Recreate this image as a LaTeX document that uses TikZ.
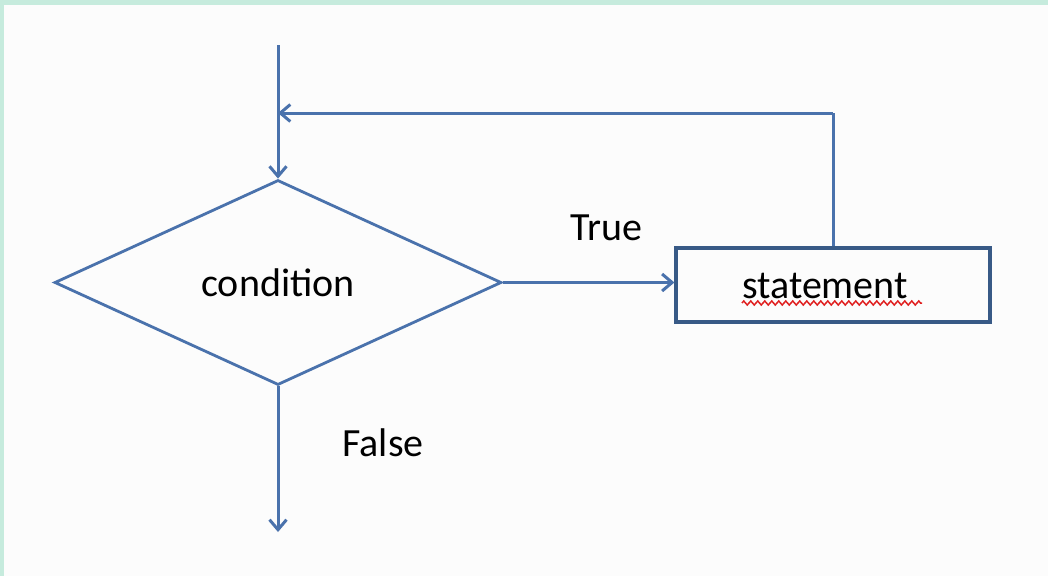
\documentclass[tikz,border=0pt]{standalone}
\usepackage{fontspec}
\setmainfont{Carlito}
\usetikzlibrary{shapes.geometric,arrows.meta,decorations.pathmorphing}
\definecolor{edgegreen}{HTML}{C6EBDD}
\definecolor{paper}{HTML}{FCFCFC}
\definecolor{flowblue}{HTML}{4A72AC}
\definecolor{boxnavy}{HTML}{385A86}
\definecolor{squiggle}{HTML}{E02020}
\tikzset{
  flow/.style={draw=flowblue, line width=3pt, -{Straight Barb[length=10pt,width=17pt,line width=3pt]}},
  plain/.style={draw=flowblue, line width=3pt},
  decision/.style={diamond, draw=flowblue, line width=2.8pt, inner sep=0pt,
    minimum width=447pt, minimum height=205pt, fill=paper},
  process/.style={rectangle, draw=boxnavy, line width=3.2pt, inner sep=0pt,
    minimum width=314pt, minimum height=74pt, fill=paper},
  txt/.style={font=\fontsize{40}{44}\selectfont, text=black},
}
\begin{document}
\begin{tikzpicture}[x=1pt,y=-1pt]
  % page background with the thin tinted frame on the top and left
  \fill[edgegreen] (0,0) rectangle (1048,576);
  \fill[paper] (4,5) rectangle (1048,576);
  \useasboundingbox (0,0) rectangle (1048,576);

  % shapes
  \node[decision, txt] (cond) at (278,282.5) {condition};
  \node[process] (stmt) at (833,285) {};
  \node[txt] (stmttext) at ([xshift=-8pt,yshift=-1pt]stmt.center) {statement};

  % spell-check underline beneath the statement text
  \coordinate (wl) at (742,303);
  \coordinate (wr) at (922,303);
  \draw[squiggle, line width=1.5pt, decorate,
        decoration={zigzag, amplitude=2pt, segment length=7pt}] (wl) -- (wr);

  % entry, loop-back and exit connectors
  \coordinate (start) at (278,45);
  \coordinate (exit) at (278,532);
  \coordinate (loopR) at (833,113);
  \coordinate (loopL) at (278,113);

  \draw[flow] (start) -- (cond.north);
  \draw[flow] (cond.east) -- (cond.east -| stmt.west);
  \draw[plain] (stmt.north) -- (loopR);
  \draw[flow] (loopR) -- (loopL);
  \draw[flow] (cond.south) -- (exit);

  % branch labels
  \node[txt] (truelbl) at (606,228) {True};
  \node[txt] (falselbl) at (383,443) {False};
\end{tikzpicture}
\end{document}
